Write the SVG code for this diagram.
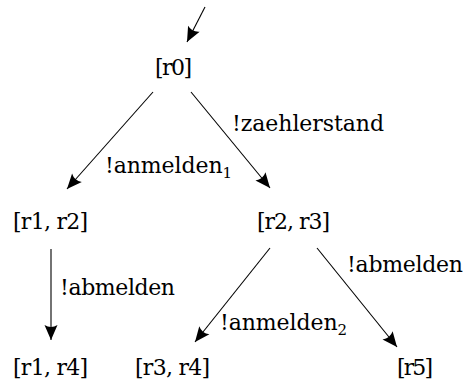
<svg xmlns="http://www.w3.org/2000/svg" width="465" height="385" viewBox="0 0 465 385">
<style>
text{font-family:'DejaVu Serif','Liberation Serif',serif;font-size:22px;fill:#000}
.e{stroke:#000;stroke-width:1.1;fill:none;marker-end:url(#ah)}
.sub{font-size:15px}
</style>
<defs>
<marker id="ah" markerUnits="userSpaceOnUse" viewBox="-16 -8 17 16" refX="0" refY="0" markerWidth="17" markerHeight="16" orient="auto">
<path d="M0,0 L-15,-6.5 Q-11,0 -15,6.5 Z" fill="#000"/>
</marker>
</defs>
<g id="edges">
<line class="e" x1="205" y1="7" x2="187" y2="42"/>
<line class="e" x1="153" y1="92" x2="67" y2="189"/>
<line class="e" x1="191" y1="92" x2="270" y2="188"/>
<line class="e" x1="51" y1="249" x2="51" y2="340"/>
<line class="e" x1="270" y1="248" x2="195" y2="342"/>
<line class="e" x1="317" y1="248" x2="397" y2="347"/>
<text x="232" y="131" textLength="152">!zaehlerstand</text>
<text x="105" y="173" textLength="127">!anmelden<tspan class="sub" dy="5">1</tspan></text>
<text x="60" y="295" textLength="115">!abmelden</text>
<text x="347" y="272" textLength="116">!abmelden</text>
<text x="220" y="330" textLength="127">!anmelden<tspan class="sub" dy="5">2</tspan></text>
</g>
<g id="r0"><text x="155" y="75" textLength="37">[r0]</text></g>
<g id="r1r2"><text x="13" y="229" textLength="75">[r1, r2]</text></g>
<g id="r2r3"><text x="257" y="229" textLength="73">[r2, r3]</text></g>
<g id="r1r4"><text x="13" y="375" textLength="75">[r1, r4]</text></g>
<g id="r3r4"><text x="135" y="375" textLength="75">[r3, r4]</text></g>
<g id="r5"><text x="397" y="375" textLength="36">[r5]</text></g>
</svg>
